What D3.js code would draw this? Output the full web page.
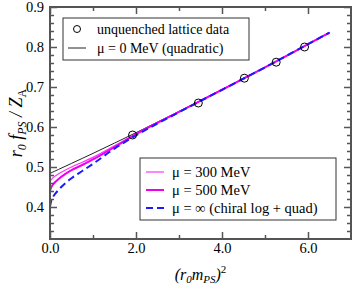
<!DOCTYPE html>
<html>
<head>
<meta charset="utf-8">
<script src="https://cdn.jsdelivr.net/npm/d3@7"></script>
<style>
body { margin: 0; background: #fff; }
</style>
</head>
<body>
<svg id="chart" width="354" height="288"></svg>
<script>
const SERIF = "'Liberation Serif', 'Times New Roman', Times, serif";

// lattice points
const dataX = [1.92, 3.45, 4.52, 5.26, 5.92];
const dataY = [0.580, 0.660, 0.722, 0.762, 0.800];

// curves
const curveX = [0, 0.02, 0.05, 0.1, 0.2, 0.35, 0.5, 0.75, 1.0, 1.5, 2.0, 3.0, 4.0, 5.0, 6.0, 6.5];
const quadY = [0.484, 0.485, 0.4865, 0.489, 0.494, 0.5015, 0.509, 0.5215, 0.5341, 0.5598, 0.5858, 0.6389, 0.6936, 0.7495, 0.8066, 0.8356];
const mu300Y = [0.463, 0.467, 0.471, 0.476, 0.483, 0.492, 0.500, 0.512, 0.524, 0.553, 0.583, 0.638, 0.694, 0.749, 0.807, 0.836];
const mu500Y = [0.440, 0.447, 0.453, 0.460, 0.470, 0.482, 0.492, 0.505, 0.519, 0.550, 0.582, 0.638, 0.693, 0.749, 0.807, 0.836];
const muInfY = [0.400, 0.412, 0.421, 0.430, 0.443, 0.459, 0.472, 0.490, 0.508, 0.546, 0.579, 0.637, 0.693, 0.749, 0.807, 0.836];

const xTicks = [0, 2, 4, 6];
const yTicks = [0.4, 0.5, 0.6, 0.7, 0.8, 0.9];

const svg = d3.select("#chart").attr("font-family", SERIF);
const margin = {top: 7, right: 3, bottom: 49, left: 50};
const width = 354 - margin.left - margin.right,
    height = 288 - margin.top - margin.bottom;

let x = d3.scaleLinear().domain([0, 7]).range([0, width]);
let y = d3.scaleLinear().domain([0.32, 0.9]).range([height, 0]);

let g = svg.append("g").attr("transform", "translate(" + margin.left + "," + margin.top + ")");

// curves
let line = d3.line()
    .x((d, i) => x(curveX[i]))
    .y(d => y(d))
    .curve(d3.curveMonotoneX);

g.append("path").datum(quadY)
    .attr("fill", "none").attr("stroke", "#222").attr("stroke-width", 1).attr("d", line);
g.append("path").datum(mu300Y)
    .attr("fill", "none").attr("stroke", "#ff33ff").attr("stroke-width", 1.2).attr("d", line);
g.append("path").datum(mu500Y)
    .attr("fill", "none").attr("stroke", "#ee00ee").attr("stroke-width", 2).attr("d", line);
g.append("path").datum(muInfY)
    .attr("fill", "none").attr("stroke", "#1a1aff").attr("stroke-width", 2)
    .attr("stroke-dasharray", "7,4").attr("d", line);

// data circles
g.selectAll("circle.pt").data(dataX).enter().append("circle")
    .attr("class", "pt")
    .attr("cx", d => x(d))
    .attr("cy", (d, i) => y(dataY[i]))
    .attr("r", 4)
    .attr("fill", "none").attr("stroke", "#000").attr("stroke-width", 1);

// axes: inward ticks on all four sides
const frame = "#555";
function styleAxis(sel) {
    sel.attr("font-family", SERIF);
    sel.select(".domain").remove();
    sel.selectAll(".tick line").attr("stroke", frame).attr("stroke-width", 1.5);
    sel.selectAll("text").attr("font-size", 14.5).attr("font-family", SERIF).attr("fill", "#000");
}
let xMinor = d3.range(1, 7, 2);
let yMinor = d3.range(0.34, 0.9, 0.02).filter(v => Math.abs(v * 10 - Math.round(v * 10)) > 0.01);

g.append("g").attr("transform", "translate(0," + height + ")")
    .call(d3.axisBottom(x).tickValues(xTicks).tickSizeInner(-7).tickPadding(4).tickFormat(d3.format(".1f")))
    .call(styleAxis);
g.append("g").attr("transform", "translate(0," + height + ")")
    .call(d3.axisBottom(x).tickValues(xMinor).tickSizeInner(-4).tickFormat(""))
    .call(styleAxis);
g.append("g")
    .call(d3.axisTop(x).tickValues(xTicks).tickSizeInner(-7).tickFormat(""))
    .call(styleAxis);
g.append("g")
    .call(d3.axisTop(x).tickValues(xMinor).tickSizeInner(-4).tickFormat(""))
    .call(styleAxis);

g.append("g")
    .call(d3.axisLeft(y).tickValues(yTicks).tickSizeInner(-7).tickPadding(6).tickFormat(d3.format(".1f")))
    .call(styleAxis);
g.append("g")
    .call(d3.axisLeft(y).tickValues(yMinor).tickSizeInner(-4).tickFormat(""))
    .call(styleAxis);
g.append("g").attr("transform", "translate(" + width + ",0)")
    .call(d3.axisRight(y).tickValues(yTicks).tickSizeInner(-7).tickFormat(""))
    .call(styleAxis);
g.append("g").attr("transform", "translate(" + width + ",0)")
    .call(d3.axisRight(y).tickValues(yMinor).tickSizeInner(-4).tickFormat(""))
    .call(styleAxis);

g.append("rect")
    .attr("width", width).attr("height", height)
    .attr("fill", "none").attr("stroke", frame).attr("stroke-width", 2);

// axis titles
let xt = svg.append("text")
    .attr("x", margin.left + width / 2).attr("y", 280)
    .attr("text-anchor", "middle").attr("font-size", 16).attr("font-style", "italic");
xt.append("tspan").text("(r");
xt.append("tspan").attr("font-size", 11).attr("dy", 3).text("0");
xt.append("tspan").attr("dy", -3).text("m");
xt.append("tspan").attr("font-size", 11).attr("dy", 3).text("PS");
xt.append("tspan").attr("dy", -3).text(")");
xt.append("tspan").attr("font-size", 11).attr("dy", -7).attr("font-style", "normal").text("2");

let yt = svg.append("text")
    .attr("transform", "translate(22," + 123 + ") rotate(-90)")
    .attr("text-anchor", "middle").attr("font-size", 18).attr("font-style", "italic");
yt.append("tspan").text("r");
yt.append("tspan").attr("font-size", 12).attr("dy", 4).text("0");
yt.append("tspan").attr("dy", -4).text(" f");
yt.append("tspan").attr("font-size", 12).attr("dy", 4).text("PS");
yt.append("tspan").attr("dy", -4).text(" / Z");
yt.append("tspan").attr("font-size", 12).attr("dy", 4).attr("font-style", "normal").text("A");

// legend top
let leg1 = svg.append("g");
leg1.append("rect").attr("x", 63).attr("y", 18).attr("width", 186).attr("height", 42)
    .attr("fill", "#fff").attr("stroke", "#333").attr("stroke-width", 1);
leg1.append("circle").attr("cx", 77).attr("cy", 29).attr("r", 3.5)
    .attr("fill", "none").attr("stroke", "#000");
leg1.append("text").attr("x", 97).attr("y", 34).attr("font-size", 14).text("unquenched lattice data");
leg1.append("line").attr("x1", 68).attr("x2", 86).attr("y1", 48).attr("y2", 48)
    .attr("stroke", "#222").attr("stroke-width", 1);
leg1.append("text").attr("x", 97).attr("y", 53).attr("font-size", 14).text("μ = 0 MeV (quadratic)");

// legend bottom
let leg2 = svg.append("g");
leg2.append("rect").attr("x", 140).attr("y", 158).attr("width", 196).attr("height", 62)
    .attr("fill", "#fff").attr("stroke", "#333").attr("stroke-width", 1);
const legItems = [
    {label: "μ = 300 MeV", color: "#ff33ff", w: 1.2, dash: null},
    {label: "μ = 500 MeV", color: "#ee00ee", w: 2, dash: null},
    {label: "μ = ∞ (chiral log + quad)", color: "#1a1aff", w: 2, dash: "7,4"}
];
legItems.forEach((d, i) => {
    let yy = 172 + i * 18;
    leg2.append("line").attr("x1", 146).attr("x2", 164).attr("y1", yy).attr("y2", yy)
        .attr("stroke", d.color).attr("stroke-width", d.w)
        .attr("stroke-dasharray", d.dash);
    leg2.append("text").attr("x", 172).attr("y", yy + 5).attr("font-size", 14.5).text(d.label);
});
</script>
</body>
</html>
